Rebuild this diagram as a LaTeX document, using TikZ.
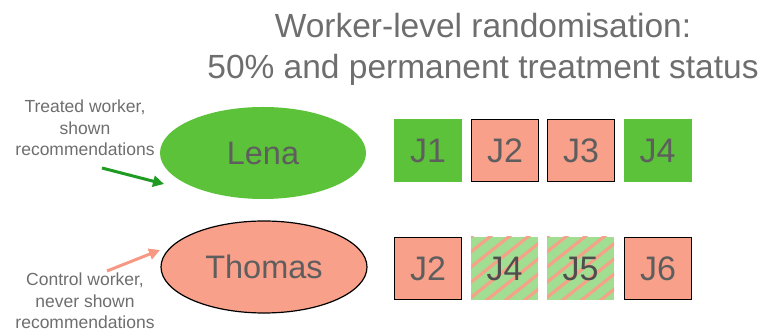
\documentclass[tikz,border=0pt]{standalone}
\usepackage{fontspec}
\setmainfont{Liberation Sans}
\usetikzlibrary{arrows.meta,shapes.geometric}
\definecolor{treatgreen}{HTML}{5CC23A}
\definecolor{arrowgreen}{HTML}{1F9A22}
\definecolor{ctrlsalmon}{HTML}{F9A08B}
\definecolor{arrowsalmon}{HTML}{F79884}
\definecolor{palegreen}{HTML}{A2DE92}
\definecolor{stripesalmon}{HTML}{F4A288}
\definecolor{labelgray}{HTML}{6E6E6E}
\definecolor{boxtext}{HTML}{5E5E5E}
\definecolor{hatchtext}{HTML}{4E4E4E}
\begin{document}
\begin{tikzpicture}[x=1pt,y=1pt,
  worker/.style={ellipse, minimum width=206, minimum height=92, inner sep=0,
    font=\fontsize{32.5}{34}\selectfont, text=boxtext},
  treatedjob/.style={rectangle, minimum width=68, minimum height=63, inner sep=0,
    fill=treatgreen, font=\fontsize{34}{36}\selectfont, text=boxtext},
  controljob/.style={rectangle, minimum width=67, minimum height=62, inner sep=0,
    fill=ctrlsalmon, draw=black, line width=1.5pt, font=\fontsize{34}{36}\selectfont, text=boxtext},
  hiddenjob/.style={rectangle, minimum width=67, minimum height=63, inner sep=0,
    font=\fontsize{34}{36}\selectfont, text=hatchtext},
  sidelabel/.style={align=center, text=labelgray, font=\fontsize{17.5}{21.5}\selectfont},
  pointer/.style={line width=3pt, -{Triangle[length=11pt,width=11pt]}}
]
\useasboundingbox (0,0) rectangle (770,331);

% title
\node[text=labelgray, font=\fontsize{33.5}{41}\selectfont, align=center] (title) at (483,282)
  {Worker-level randomisation:\\50\% and permanent treatment status};

% workers
\node[worker, fill=treatgreen] (lena) at (263,178) {Lena};
\node[worker, fill=ctrlsalmon, draw=black, line width=1.2pt] (thomas) at (264,64) {Thomas};

% jobs of the treated worker
\node[treatedjob] (a1) at (428,180.5) {J1};
\node[controljob] (a2) at (505,180.5) {J2};
\node[controljob] (a3) at (581,180.5) {J3};
\node[treatedjob] (a4) at (657.5,180.5) {J4};

% jobs of the control worker: recommended ones are hatched
\node[controljob] (b2) at (428,62.5) {J2};
\foreach \cx/\nm/\lb in {504.5/b4/J4, 580.5/b5/J5}{
  \fill[palegreen] (\cx-33.5,31) rectangle (\cx+33.5,94);
  \begin{scope}
    \clip (\cx-33.5,31) rectangle (\cx+33.5,94);
    \foreach \k in {-114,-95,...,100}
      \draw[stripesalmon, line width=3.2pt] (\cx+\k-10,22) -- (\cx+\k+90,102);
  \end{scope}
  \node[hiddenjob] (\nm) at (\cx,62.5) {\lb};
}
\node[controljob] (b6) at (658,62.5) {J6};

% side labels and pointers
\node[sidelabel] (treatlab) at (85,203) {Treated worker,\\shown\\recommendations};
\node[sidelabel] (ctrllab) at (85,30) {Control worker,\\never shown\\recommendations};
\coordinate (gs) at (102,163);
\coordinate (ge) at (164,147);
\coordinate (ss) at (107,60);
\coordinate (se) at (160,81);
\draw[pointer, arrowgreen] (gs) -- (ge);
\draw[pointer, arrowsalmon] (ss) -- (se);
\end{tikzpicture}
\end{document}
